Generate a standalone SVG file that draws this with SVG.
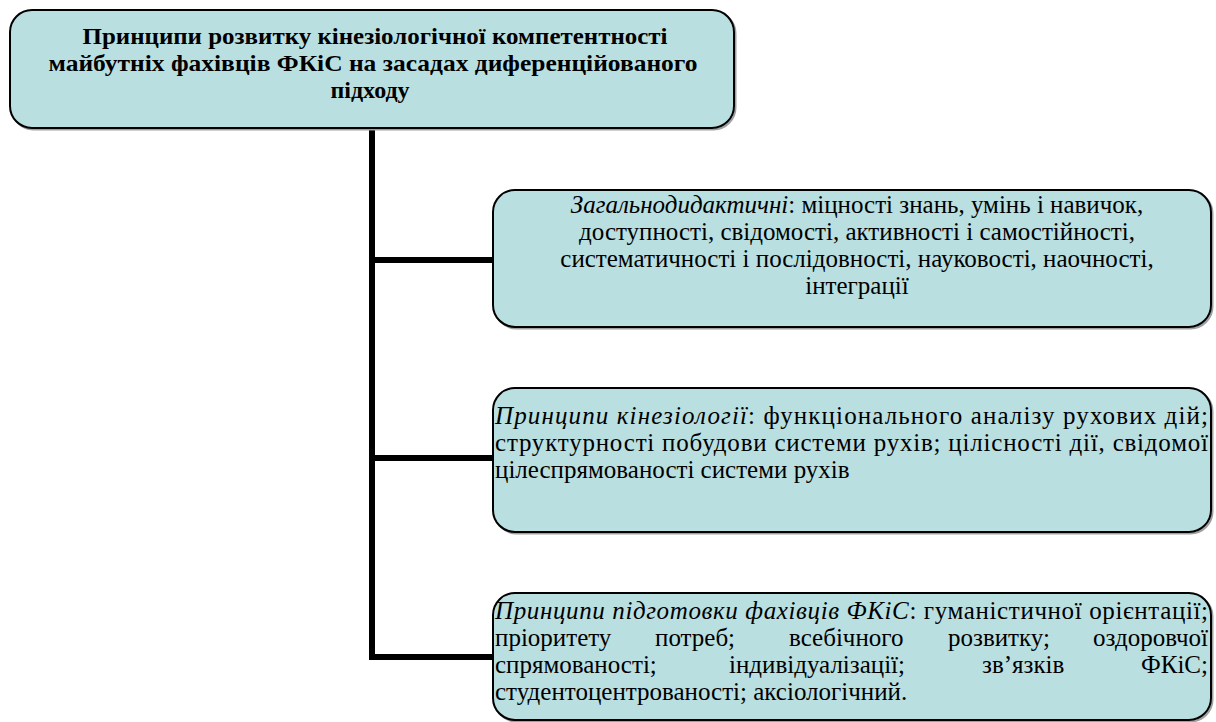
<svg xmlns="http://www.w3.org/2000/svg" width="1216" height="722" viewBox="0 0 1216 722">
<style>
.box{fill:#B9DFE1;stroke:#000;stroke-width:2}
.sh{fill:none;stroke:#a0a0a0;stroke-width:2}
.t{font-family:"Liberation Serif","Times New Roman",serif;font-size:25px;fill:#000}
.b{font-weight:bold;font-size:24px}
.i{font-style:italic}
.c{text-anchor:middle}
.e{text-anchor:end}
.con{stroke:#000;stroke-width:6;fill:none;stroke-linejoin:miter}
</style>
<rect width="1216" height="722" fill="#fff"/>
<g id="connectors">
<path class="con" d="M372 128 V657 H493"/>
<path class="con" d="M372 260 H493"/>
<path class="con" d="M372 458 H493"/>
</g>
<g id="root">
<rect class="sh" x="11.5" y="11.5" width="724" height="118" rx="22"/>
<rect class="box" x="10" y="10" width="724" height="118" rx="22"/>
<text class="t b c" x="375" y="44" textLength="585" lengthAdjust="spacingAndGlyphs">Принципи розвитку кінезіологічної компетентності</text>
<text class="t b c" x="373" y="71" textLength="649" lengthAdjust="spacingAndGlyphs">майбутніх фахівців ФКіС на засадах диференційованого</text>
<text class="t b c" x="370" y="98">підходу</text>
</g>
<g id="node-general">
<rect class="sh" x="494.5" y="191.5" width="718" height="137" rx="22"/>
<rect class="box" x="493" y="190" width="718" height="137" rx="22"/>
<text class="t c" x="857" y="213"><tspan class="i">Загальнодидактичні</tspan>: міцності знань, умінь і навичок,</text>
<text class="t c" x="857" y="240">доступності, свідомості, активності і самостійності,</text>
<text class="t c" x="857" y="267">систематичності і послідовності, науковості, наочності,</text>
<text class="t c" x="857" y="294">інтеграції</text>
</g>
<g id="node-kinesiology">
<rect class="sh" x="494.5" y="389.5" width="718" height="144" rx="22"/>
<rect class="box" x="493" y="388" width="718" height="144" rx="22"/>
<text class="t" x="495" y="424" textLength="713" lengthAdjust="spacing"><tspan class="i">Принципи кінезіології</tspan>: функціонального аналізу рухових дій;</text>
<text class="t" x="495" y="451" textLength="713" lengthAdjust="spacing">структурності побудови системи рухів; цілісності дії, свідомої</text>
<text class="t" x="495" y="478">цілеспрямованості системи рухів</text>
</g>
<g id="node-training">
<rect class="sh" x="494.5" y="594.5" width="718" height="127" rx="22"/>
<rect class="box" x="493" y="593" width="718" height="127" rx="22"/>
<text class="t" x="495" y="619" textLength="713" lengthAdjust="spacing"><tspan class="i">Принципи підготовки фахівців ФКіС</tspan>: гуманістичної орієнтації;</text>
<text class="t" y="646"><tspan x="495">пріоритету</tspan><tspan x="655">потреб;</tspan><tspan x="789">всебічного</tspan><tspan x="948">розвитку;</tspan></text>
<text class="t e" x="1208" y="646">оздоровчої</text>
<text class="t" y="673"><tspan x="495">спрямованості;</tspan><tspan x="729">індивідуалізації;</tspan><tspan x="982">зв’язків</tspan></text>
<text class="t e" x="1208" y="673">ФКіС;</text>
<text class="t" x="495" y="700">студентоцентрованості; аксіологічний.</text>
</g>
</svg>
